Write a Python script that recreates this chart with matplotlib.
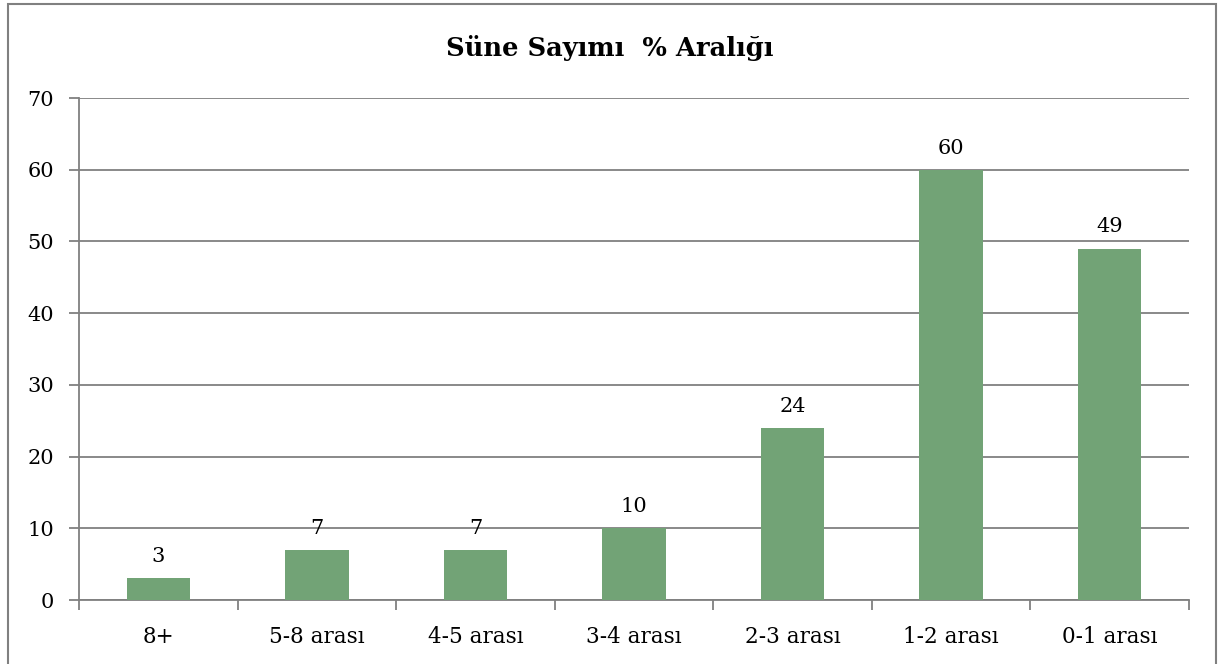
import matplotlib
matplotlib.use("Agg")
import matplotlib.pyplot as plt
from matplotlib.patches import Rectangle

categories = ["8+", "5-8 arası", "4-5 arası", "3-4 arası", "2-3 arası", "1-2 arası", "0-1 arası"]
values = [3, 7, 7, 10, 24, 60, 49]
title = "Süne Sayımı  % Aralığı"

plt.rcParams['font.family'] = ['DejaVu Serif', 'Liberation Serif']

fig = plt.figure(figsize=(12.2, 6.64), dpi=100)
ax = fig.add_axes([79/1220, 1-600/664, (1189-79)/1220, (600-98)/664])

x = list(range(len(categories)))
bars = ax.bar(x, values, width=0.4, color="#72A376", zorder=3)
for xi, v in zip(x, values):
    ax.text(xi, v + 1.7, str(v), ha="center", va="bottom", fontsize=15, color="black")

ax.set_xlim(-0.5, len(categories) - 0.5)
ax.set_ylim(0, 70)
ax.set_yticks(range(0, 71, 10))
ax.yaxis.grid(True, color="#808080", linewidth=1.3, zorder=0)
ax.set_axisbelow(True)

ax.set_xticks(x)
ax.set_xticklabels(categories, fontsize=15.5)
ax.tick_params(axis="x", length=0, pad=19)
ax.set_xticks([i - 0.5 for i in range(len(categories) + 1)], minor=True)
ax.tick_params(axis="x", which="minor", length=7, color="#808080", width=1.3)
ax.tick_params(axis="y", length=7, color="#808080", width=1.3, labelsize=15, pad=11)

for s in ["top", "right"]:
    ax.spines[s].set_visible(False)
for s in ["left", "bottom"]:
    ax.spines[s].set_color("#808080")
    ax.spines[s].set_linewidth(1.3)

fig.text(0.5, 1-48/664, title, ha="center", va="center", fontsize=18.5, fontweight="bold")

fig.patches.append(Rectangle((8/1220, -0.1), (1216-8)/1220, 1-4/664 + 0.1,
                             transform=fig.transFigure, fill=False,
                             edgecolor="#808080", linewidth=1.5))

fig.savefig("out.png", dpi=100)
